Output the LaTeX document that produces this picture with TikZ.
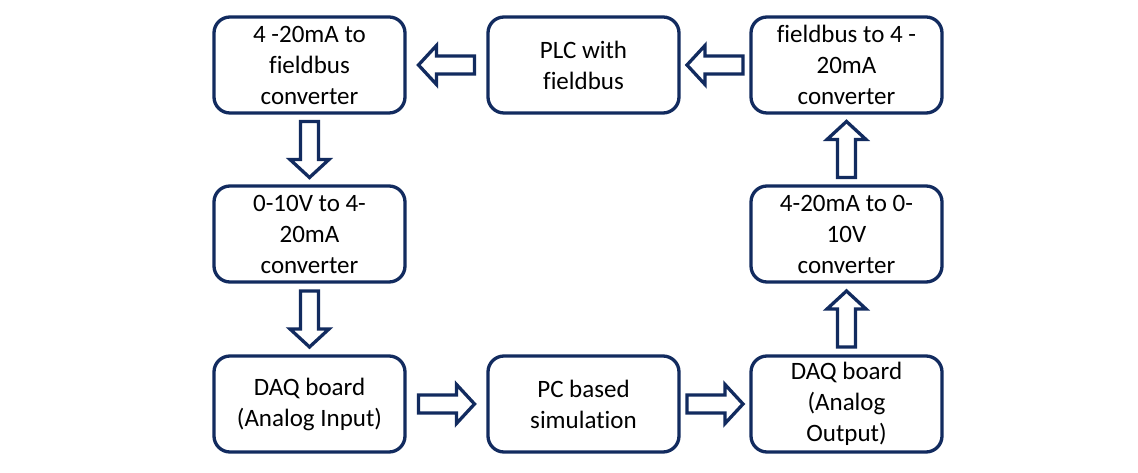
\documentclass[tikz,border=0pt]{standalone}
\usepackage{fontspec}
\setmainfont{Carlito}[Ligatures={NoCommon}]
\usetikzlibrary{calc}
\definecolor{navy}{HTML}{122B5F}
\tikzset{
  box/.style={draw=navy, line width=3.3pt, rounded corners=16pt, fill=white,
    minimum width=191pt, minimum height=96pt, inner sep=0pt, align=center,
    font=\fontsize{25pt}{31pt}\selectfont, text=black},
  blk/.style={draw=navy, line width=3.3pt, fill=white, line join=miter}
}
\newcommand\blockarrow[3]{%
  \draw[blk, shift={($(#1)!0.5!(#2)$)}, rotate=#3]
    (-28,-9) -- (10,-9) -- (10,-19.5) -- (28,0) -- (10,19.5) -- (10,9) -- (-28,9) -- cycle;}
\begin{document}
\begin{tikzpicture}[x=1pt,y=1pt]
\useasboundingbox[fill=white] (0,0) rectangle (1138,473);
\node[box] (ftf) at (309.5,408) {4 -20mA to\\fieldbus\\converter};
\node[box] (plc) at (583.5,408) {PLC with\\fieldbus};
\node[box] (fbt) at (846.5,408) {fieldbus to 4 -\\20mA\\converter};
\node[box] (vtm) at (309.5,239) {0-10V to 4-\\20mA\\converter};
\node[box] (mtv) at (846.5,239) {4-20mA to 0-\\10V\\converter};
\node[box] (daqi) at (309.5,69) {DAQ board\\(Analog Input)};
\node[box] (pcs) at (583.5,69) {PC based\\simulation};
\node[box] (daqo) at (846.5,69) {DAQ board\\(Analog\\Output)};
\blockarrow{plc}{ftf}{180}
\blockarrow{fbt}{plc}{180}
\blockarrow{ftf}{vtm}{270}
\blockarrow{vtm}{daqi}{270}
\blockarrow{daqi}{pcs}{0}
\blockarrow{pcs}{daqo}{0}
\blockarrow{daqo}{mtv}{90}
\blockarrow{mtv}{fbt}{90}
\end{tikzpicture}
\end{document}
